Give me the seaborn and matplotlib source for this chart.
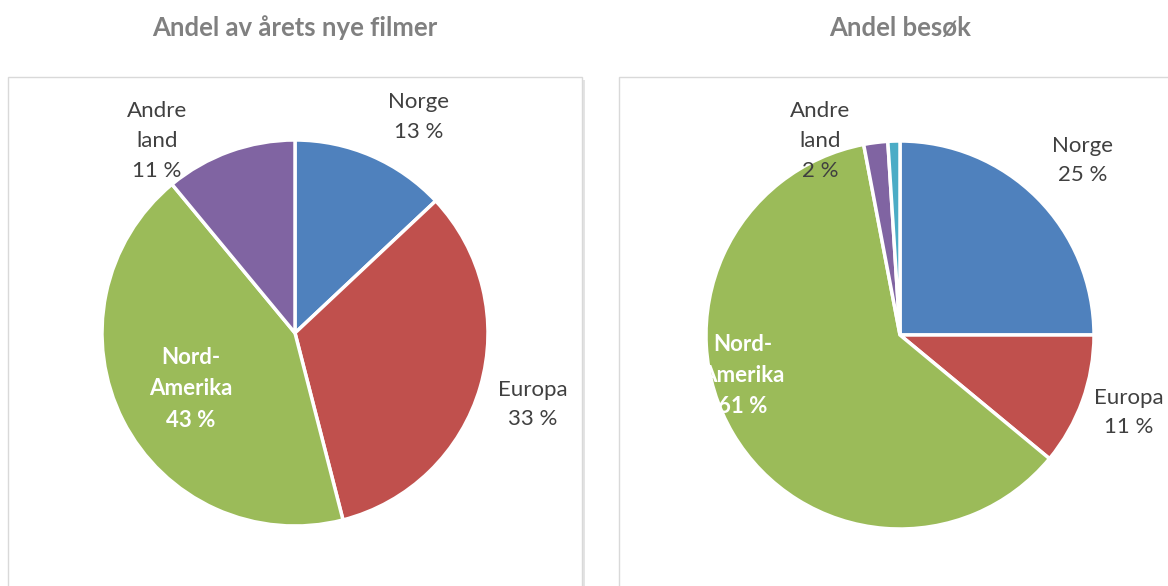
import matplotlib
matplotlib.use("Agg")
import matplotlib.pyplot as plt
from matplotlib.patches import Rectangle
import seaborn as sns

# data
categories = ["Norge", "Europa", "Nord-\nAmerika", "Andre\nland"]
films_share = [13, 33, 43, 11]
visits_share = [25, 11, 61, 2, 1]   # last slice: unlabelled remainder
colors = ["#4F81BD", "#C0504D", "#9BBB59", "#8064A2", "#4BACC6"]

sns.set_theme(style="white")
plt.rcParams["font.family"] = ["Lato", "DejaVu Sans"]

W, H = 1168, 586
fig = plt.figure(figsize=(W / 100, H / 100), dpi=100)


def px_axes(x0, x1, y0, y1):
    # axes from pixel box (y measured from top)
    return fig.add_axes([x0 / W, 1 - y1 / H, (x1 - x0) / W, (y1 - y0) / H])


def draw_panel(x0, x1, y0):
    # shadowed frame, cut off at the bottom like the reference
    fig.patches.append(Rectangle(((x0 + 3) / W, 0), (x1 - x0) / W, 1 - (y0 + 3) / H,
                                 transform=fig.transFigure, facecolor="#e4e4e4",
                                 edgecolor="none", zorder=-2))
    fig.patches.append(Rectangle((x0 / W, -0.01), (x1 - x0) / W, 1 - y0 / H + 0.01,
                                 transform=fig.transFigure, facecolor="white",
                                 edgecolor="#d9d9d9", linewidth=1, zorder=-1))


draw_panel(8, 582, 77)
draw_panel(619, 1190, 77)


def draw_pie(cx, cy, R, values, labels, label_pos, title):
    ax = px_axes(cx - 290, cx + 290, 60, H)
    ax.pie(values, colors=colors[:len(values)], startangle=90, counterclock=False,
           radius=1, wedgeprops=dict(edgecolor="white", linewidth=2.5))
    ax.set_xlim(-290 / R, 290 / R)
    ax.set_ylim(-(H - cy) / R, (cy - 60) / R)
    ax.set_aspect("equal")
    ax.axis("off")
    for i, lab in enumerate(labels):
        x, y = label_pos[i]
        inside = lab.startswith("Nord")
        ax.text(x, y, f"{lab}\n{values[i]} %", ha="center", va="center",
                fontsize=16, linespacing=1.6,
                color="white" if inside else "#404040",
                fontweight="bold" if inside else "normal")
    fig.text(cx / W, 1 - 28 / H, title, ha="center", va="center",
             fontsize=18.5, fontweight="bold", color="#808080")


# label offsets in pie radii
left_pos = [(0.64, 1.12), (1.23, -0.37), (-0.54, -0.29), (-0.715, 0.995)]
right_pos = [(0.94, 0.90), (1.18, -0.40), (-0.81, -0.21), (-0.41, 1.0)]

draw_pie(295, 333, 193, films_share, categories, left_pos, "Andel av årets nye filmer")
draw_pie(900, 335, 194, visits_share, categories, right_pos, "Andel besøk")

fig.savefig("out.png", dpi=100)
